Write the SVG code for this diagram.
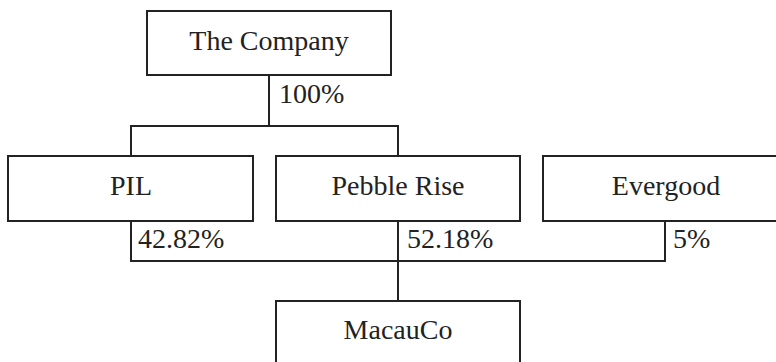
<svg xmlns="http://www.w3.org/2000/svg" width="776" height="362" viewBox="0 0 776 362">
<style>
.box{fill:#fff;stroke:#222;stroke-width:2}
.ln{fill:none;stroke:#222;stroke-width:2}
text{font-family:"Liberation Serif","Times New Roman",serif;font-size:28px;fill:#222}
.c{text-anchor:middle}
</style>
<rect width="776" height="362" fill="#fff"/>
<g id="connectors">
<path class="ln" d="M269 75V126M131 126H398M131 125V156M398 125V156"/>
<path class="ln" d="M131 221V261H665V221M398 221V301"/>
<text x="279" y="103">100%</text>
<text x="138" y="248">42.82%</text>
<text x="407" y="248">52.18%</text>
<text x="673" y="248">5%</text>
</g>
<g id="company"><rect class="box" x="147" y="11" width="244" height="64"/><text class="c" x="269" y="50">The Company</text></g>
<g id="pil"><rect class="box" x="8" y="156" width="245" height="65"/><text class="c" x="131" y="195">PIL</text></g>
<g id="pebble"><rect class="box" x="276" y="156" width="244" height="65"/><text class="c" x="398" y="195">Pebble Rise</text></g>
<g id="evergood"><rect class="box" x="543" y="156" width="250" height="65"/><text class="c" x="666" y="195">Evergood</text></g>
<g id="macauco"><rect class="box" x="276" y="301" width="244" height="70"/><text class="c" x="398" y="339">MacauCo</text></g>
</svg>
